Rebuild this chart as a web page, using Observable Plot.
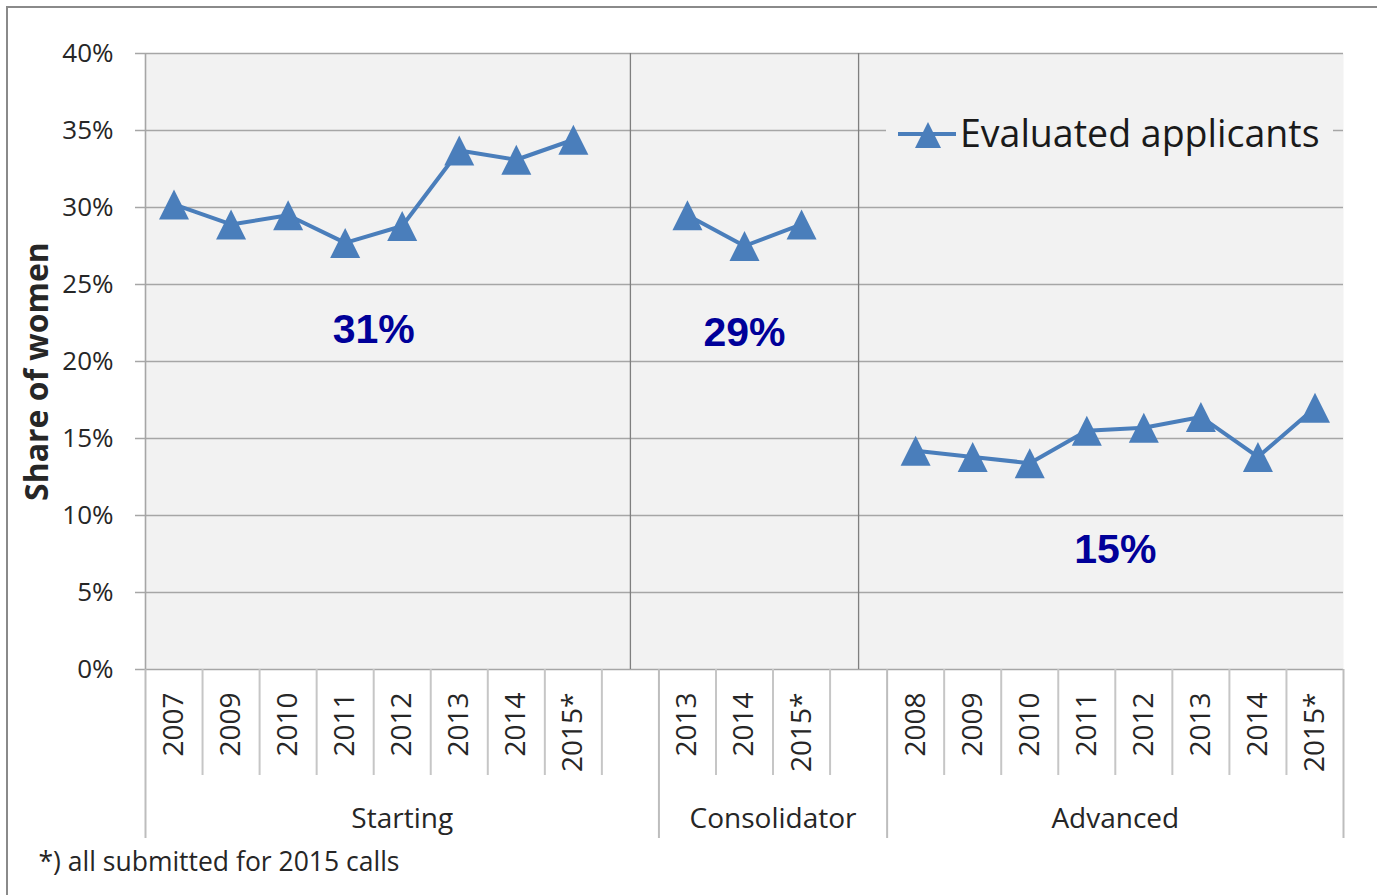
<!DOCTYPE html>
<html>
<head>
<meta charset="utf-8">
<script src="https://cdn.jsdelivr.net/npm/d3@7"></script>
<script src="https://cdn.jsdelivr.net/npm/@observablehq/plot@0.6"></script>
<style>
  html, body { margin: 0; padding: 0; background: #fff; overflow: hidden; }
  #wrap { position: relative; width: 1377px; height: 895px; }
  #border { position: absolute; left: 6px; top: 6px; right: 0; bottom: 0;
            border-left: 2px solid #8a8a8a; border-top: 2px solid #8a8a8a; pointer-events: none; }
  #legend { position: absolute; left: 886px; top: 112px; width: 447px; height: 46px; background: #f2f2f2; }
  #legend svg { overflow: visible; }
</style>
</head>
<body>
<div id="wrap">
  <div id="chart"></div>
  <div id="legend"></div>
  <div id="border"></div>
</div>
<script>
// ---- data ----
const groups = ["Starting", "Consolidator", "Advanced"];
const startingYears = ["2007", "2009", "2010", "2011", "2012", "2013", "2014", "2015*"];
const startingValues = [30.2, 28.9, 29.5, 27.7, 28.8, 33.7, 33.1, 34.4];
const consolidatorYears = ["2013", "2014", "2015*"];
const consolidatorValues = [29.5, 27.5, 28.9];
const advancedYears = ["2008", "2009", "2010", "2011", "2012", "2013", "2014", "2015*"];
const advancedValues = [14.2, 13.8, 13.4, 15.5, 15.7, 16.4, 13.8, 17.0];
const groupAverageLabels = ["31%", "29%", "15%"];
const yTicks = [0, 5, 10, 15, 20, 25, 30, 35, 40];
const seriesName = "Evaluated applicants";
const yTitle = "Share of women";
const footnote = "*) all submitted for 2015 calls";

// ---- derived tables ----
const groupYears = [startingYears, consolidatorYears, advancedYears];
const groupValues = [startingValues, consolidatorValues, advancedValues];
const points = [];
const gaps = [];
const groupInfo = [];
let pos = 0;
groups.forEach((g, gi) => {
  const start = pos;
  groupYears[gi].forEach((yr, i) => {
    points.push({group: g, label: yr, x: pos + 0.5, value: groupValues[gi][i]});
    pos++;
  });
  const dataEnd = pos;
  if (gi < groups.length - 1) { gaps.push(pos + 0.5); pos++; }
  groupInfo.push({group: g, start, dataEnd, end: pos,
    min: d3.min(groupValues[gi]), label: groupAverageLabels[gi]});
});
const nCats = pos;
const groupBoundaries = [0, ...groupInfo.map(d => d.end)];
const catBoundaries = d3.range(1, nCats).filter(b => !groupBoundaries.includes(b));

const blue = "#4a7ebb";
const excelTriangle = {
  draw(ctx, size) {
    const a = Math.sqrt(size / Math.PI);
    ctx.moveTo(0, -a); ctx.lineTo(a, a); ctx.lineTo(-a, a); ctx.closePath();
  }
};

const chart = Plot.plot({
  width: 1377, height: 895,
  marginLeft: 145, marginRight: 34, marginTop: 53, marginBottom: 226,
  style: {fontFamily: "'Open Sans', sans-serif", fontSize: "26px", color: "#262626",
          background: "transparent", overflow: "visible"},
  x: {domain: [0, nCats], axis: null},
  y: {domain: [0, 40], ticks: yTicks, tickSize: 0, tickPadding: 32,
      tickFormat: d => d + "%", label: null},
  marks: [
    Plot.frame({fill: "#f2f2f2", stroke: "none"}),
    Plot.ruleY(yTicks, {stroke: "#a6a6a6", strokeWidth: 1.6, insetLeft: -10}),
    Plot.ruleX([0], {stroke: "#a6a6a6", strokeWidth: 1.6}),
    Plot.ruleX(groupBoundaries, {y1: 0, y2: 0, insetBottom: -169, stroke: "#bdbdbd", strokeWidth: 2}),
    Plot.ruleX(catBoundaries, {y1: 0, y2: 0, insetBottom: -106, stroke: "#c6c6c6", strokeWidth: 2}),
    Plot.ruleX(gaps, {stroke: "#7f7f7f", strokeWidth: 1.3}),
    Plot.line(points, {x: "x", y: "value", z: "group", stroke: blue, strokeWidth: 4}),
    Plot.dot(points, {x: "x", y: "value", symbol: excelTriangle, r: 15, fill: blue, stroke: "none"}),
    // year tick labels
    Plot.text(points, {x: "x", text: "label", frameAnchor: "bottom", rotate: -90,
      textAnchor: "end", lineAnchor: "middle", dy: 23, fontSize: 28}),
    // group labels
    Plot.text(groupInfo, {x: d => (d.start + d.end) / 2, text: "group", frameAnchor: "bottom",
      lineAnchor: "middle", dy: 150, fontSize: 28}),
    // group averages
    Plot.text(groupInfo, {x: d => (d.start + d.dataEnd) / 2, y: d => d.min - 5.5, text: "label",
      fontSize: 41, fontWeight: "bold", fontFamily: "'Liberation Sans', Arial, sans-serif",
      fill: "#000099", lineAnchor: "middle", dy: 2}),
    // y title
    Plot.text([yTitle], {text: d => d, frameAnchor: "left", textAnchor: "middle", rotate: -90,
      dx: -108, dy: 10, fontSize: 32, fontWeight: "bold", lineAnchor: "middle"}),
    // footnote
    Plot.text([footnote], {text: d => d, frameAnchor: "bottom-left", textAnchor: "start",
      lineAnchor: "middle", dx: -107, dy: 193, fontSize: 26.5})
  ]
});
document.getElementById("chart").appendChild(chart);

// legend
const leg = d3.select("#legend").append("svg").attr("width", 447).attr("height", 46);
leg.append("line").attr("x1", 12).attr("x2", 70).attr("y1", 22).attr("y2", 22)
  .attr("stroke", blue).attr("stroke-width", 4);
leg.append("path").attr("d", d3.symbol(excelTriangle, Math.PI * 13 * 13)())
  .attr("transform", "translate(42,23)").attr("fill", blue);
leg.append("text").attr("x", 74).attr("y", 35).text(seriesName)
  .attr("font-family", "'Open Sans', sans-serif").attr("font-size", 37.5).attr("fill", "#1a1a1a");
</script>
</body>
</html>
